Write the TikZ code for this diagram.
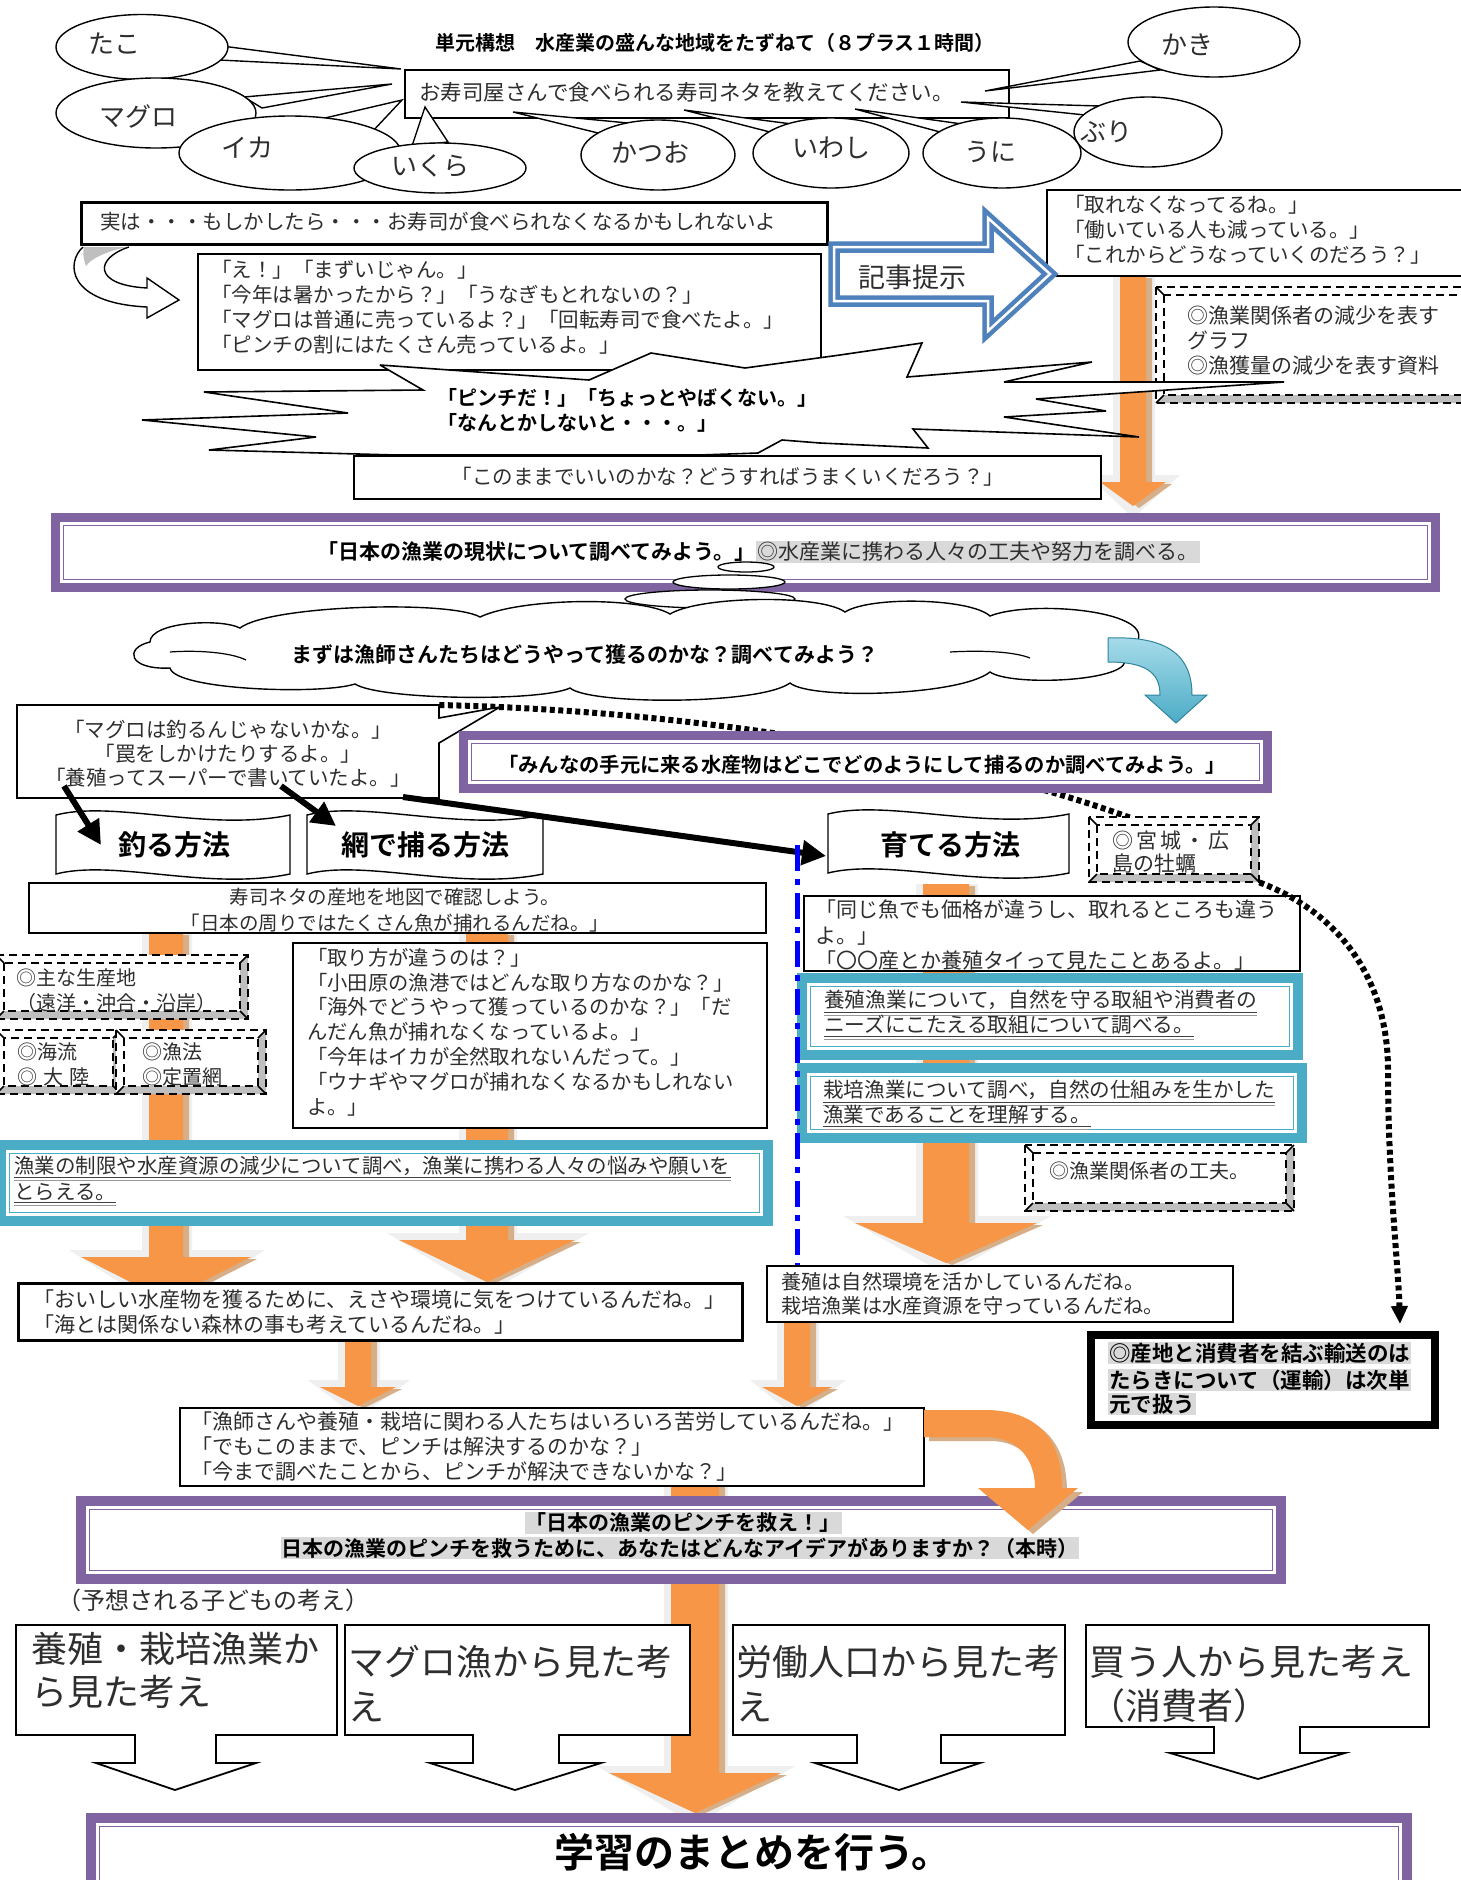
\documentclass[tikz,border=0pt]{standalone}
\usepackage{fontspec}
\setmainfont{Noto Sans CJK JP}[BoldFont={* Bold}]
\usetikzlibrary{arrows.meta,shapes.geometric}
\definecolor{pur}{HTML}{8064A2}
\definecolor{teal2}{HTML}{4BACC6}
\definecolor{tealL}{HTML}{A8DCEA}
\definecolor{tealD}{HTML}{31849B}
\definecolor{blu}{HTML}{4F81BD}
\definecolor{ora}{HTML}{F79646}
\definecolor{tanc}{HTML}{D6AE88}
\definecolor{glow}{HTML}{EFEFEF}
\definecolor{hl}{HTML}{D9D9D9}
\definecolor{bev}{HTML}{BFBFBF}
\definecolor{txt}{HTML}{2E2E2E}
\newcommand\fs[2]{\fontsize{#1}{#2}\selectfont}
\tikzset{
 bx/.style={draw, line width=1.8pt, fill=white, inner sep=0pt, anchor=north west},
 t/.style={inner sep=0pt, anchor=north west, align=left, text=txt},
 tw/.style={inner sep=0pt, anchor=west, text=txt},
 et/.style={inner sep=0pt, text=txt, font=\fs{26}{30}},
 ell/.style={draw, ellipse, line width=1.4pt, fill=white, inner sep=0pt},
 tail/.style={draw, line width=1.4pt, fill=white, line join=miter},
 dsh/.style={line width=2.6pt, dash pattern=on 8pt off 5pt},
 ul/.style={line width=1pt, black!75},
 blk/.style={line width=6pt, -{Triangle[length=24pt,width=24pt]}},
 dotline/.style={line width=6pt, dash pattern=on 5pt off 3.5pt},
 cbox/.style={draw, line width=1.8pt, fill=white, line join=miter},
}
\newcommand\bxn[6][]{\node[bx,#1,minimum width={#5-(#3)},minimum height={#6-(#4)}] (#2) at (#3,#4) {};}
\newcommand\dbox[5]{%
 \fill[white] (#2,#3) rectangle (#4,#5);
 \fill[bev] ({#2+8},{#5-8}) -- ({#4-8},{#5-8}) -- ({#4-8},{#3+8}) -- (#4,#3) -- (#4,#5) -- (#2,#5) -- cycle;
 \draw[dsh] (#2,#3) rectangle (#4,#5);
 \draw[dsh] ({#2+8},{#3+8}) rectangle ({#4-8},{#5-8});
 \draw[line width=1.5pt] (#2,#3) -- ({#2+8},{#3+8}) (#4,#3) -- ({#4-8},{#3+8}) (#2,#5) -- ({#2+8},{#5-8}) (#4,#5) -- ({#4-8},{#5-8});
 \node[inner sep=0pt, minimum width={#4-(#2)}, minimum height={#5-(#3)}, anchor=north west] (#1) at (#2,#3) {};}
\newcommand\dframe[7]{%
 \fill[#6] (#2,#3) rectangle (#4,#5);
 \fill[white] ({#2+#7},{#3+#7}) rectangle ({#4-#7},{#5-#7});
 \draw[#6, line width=1.8pt] ({#2+#7+3.5},{#3+#7+3.5}) rectangle ({#4-#7-3.5},{#5-#7-3.5});
 \node[inner sep=0pt, minimum width={#4-(#2)}, minimum height={#5-(#3)}, anchor=north west] (#1) at (#2,#3) {};}
\newcommand\oarrow[7]{%
 \fill[glow] ({#2-#5/2-7},#3) -- ({#2+#5/2+9},#3) -- ({#2+#5/2+9},{#7-7}) -- ({#2+#6/2+14},{#7-7}) -- (#2,{#4+12}) -- ({#2-#6/2-12},{#7-7}) -- ({#2-#5/2-7},{#7-7}) -- cycle;
 \fill[tanc, shift={(6,2)}] ({#2-#5/2},#3) -- ({#2+#5/2},#3) -- ({#2+#5/2},#7) -- ({#2+#6/2},#7) -- (#2,#4) -- ({#2-#6/2},#7) -- ({#2-#5/2},#7) -- cycle;
 \fill[ora] ({#2-#5/2},#3) -- ({#2+#5/2},#3) -- ({#2+#5/2},#7) -- ({#2+#6/2},#7) -- (#2,#4) -- ({#2-#6/2},#7) -- ({#2-#5/2},#7) -- cycle;
 \coordinate (#1) at (#2,#4);}
\newcommand\ribbon[5]{%
 \draw[line width=1.4pt, fill=white] (#2,{#4+7}) .. controls ({#2+0.25*(#3-#2)},{#4-8}) and ({#2+0.65*(#3-#2)},{#4+24}) .. (#3,{#4+7}) -- (#3,{#4+7+#5}) .. controls ({#2+0.65*(#3-#2)},{#4+24+#5}) and ({#2+0.25*(#3-#2)},{#4-8+#5}) .. (#2,{#4+7+#5}) -- cycle;
 \coordinate (#1) at ({(#2+#3)/2},{#4+7+#5/2});}
\newcommand\ulline[5]{%
 \node[tw, font=\fs{#5}{25}] (#1) at (#2,#3) {#4};
 \draw[ul] ([yshift=-2pt]#1.south west) -- ([yshift=-2pt]#1.south east);
 \draw[ul, black!40] ([yshift=-5pt]#1.south west) -- ([yshift=-5pt]#1.south east);}
\begin{document}
\begin{tikzpicture}[x=1pt,y=-1pt]
\useasboundingbox (0,0) rectangle (1461,1880);
\fill[white] (0,0) rectangle (1461,1880);

% ================= top =================
\node[inner sep=0pt, anchor=west, font=\bfseries\fs{20}{24}] (title) at (435,43) {単元構想　水産業の盛んな地域をたずねて（８プラス１時間）};
\bxn{qbox}{404}{69}{1008}{117}
\node[tw, font=\fs{21.5}{26}] (qtxt) at (419,92) {お寿司屋さんで食べられる寿司ネタを教えてください。};

\draw[tail] (214,45) -- (401,69) -- (219,60) -- cycle;
\node[ell, minimum width=172pt, minimum height=65pt] (tako) at (142,47) {};
\node[et] (takot) at (114,44) {たこ};
\draw[tail] (244,97) -- (392,84) -- (262,108) -- cycle;
\node[ell, minimum width=200pt, minimum height=70pt] (maguro) at (156,113) {};
\node[et] (magurot) at (138,116) {マグロ};
\draw[tail] (325,118) -- (402,100) -- (372,132) -- cycle;
\node[ell, minimum width=222pt, minimum height=74pt] (ika) at (290,153) {};
\node[et] (ikat) at (247,148) {イカ};
\draw[tail] (412,146) -- (425,107) -- (448,142) -- cycle;
\node[ell, minimum width=172pt, minimum height=50pt] (ikura) at (440,168) {};
\node[et] (ikurat) at (430,166) {いくら};
\draw[tail] (598,133) -- (513,112) -- (628,123) -- cycle;
\node[ell, minimum width=154pt, minimum height=70pt] (katsuo) at (658,155) {};
\node[et] (katsuot) at (650,153) {かつお};
\draw[tail] (770,132) -- (684,110) -- (792,124) -- cycle;
\node[ell, minimum width=156pt, minimum height=70pt] (iwashi) at (831,153) {};
\node[et] (iwashit) at (831,148) {いわし};
\draw[tail] (1085,115) -- (961,102) -- (1100,106) -- cycle;
\node[ell, minimum width=148pt, minimum height=70pt] (buri) at (1148,132) {};
\node[et] (burit) at (1106,132) {ぶり};
\draw[tail] (940,132) -- (855,109) -- (962,124) -- cycle;
\node[ell, minimum width=158pt, minimum height=70pt] (uni) at (1002,153) {};
\node[et] (unit) at (990,152) {うに};
\draw[tail] (1140,61) -- (985,91) -- (1160,70) -- cycle;
\node[ell, minimum width=172pt, minimum height=70pt] (kaki) at (1214,42) {};
\node[et] (kakit) at (1187,45) {かき};

% ================= section 2 =================
\bxn[line width=2.5pt]{jitsu}{80}{201}{826}{243}
\node[tw, font=\fs{20.5}{25}] (jitsut) at (100,222) {実は・・・もしかしたら・・・お寿司が食べられなくなるかもしれないよ};

\fill[white] (129,247) .. controls (95,258) and (92,285) .. (147,288) -- (147,278) -- (179,300) -- (147,318) -- (147,307) .. controls (66,303) and (66,262) .. (83,247) -- cycle;
\fill[bev] (84,247) -- (127,247) .. controls (104,252) and (91,259) .. (86,266) .. controls (83,258) and (83,252) .. (84,247) -- cycle;
\draw[line width=1.4pt, line join=miter] (129,247) .. controls (95,258) and (92,285) .. (147,288) -- (147,278) -- (179,300) -- (147,318) -- (147,307) .. controls (66,303) and (66,262) .. (83,247);

\oarrow{oa1}{1133}{276}{506}{26}{66}{482}

\bxn[line width=2.2pt]{react}{197}{253}{820}{369}
\node[t, font=\fs{20.5}{25}] (reactt) at (211,260) {「え！」「まずいじゃん。」\\「今年は暑かったから？」「うなぎもとれないの？」\\「マグロは普通に売っているよ？」「回転寿司で食べたよ。」\\「ピンチの割にはたくさん売っているよ。」};

\bxn{toren}{1046}{189}{1462}{275}
\node[t, font=\fs{20.5}{25}] (torent) at (1064,195) {「取れなくなってるね。」\\「働いている人も減っている。」\\「これからどうなっていくのだろう？」};

\dbox{dash1}{1156}{287}{1472}{403}
\node[t, font=\fs{21}{25}] (dash1t) at (1187,306) {◎漁業関係者の減少を表す\\グラフ\\◎漁獲量の減少を表す資料};

\draw[line width=1.6pt, fill=white, line join=miter, miter limit=4] (380,365) -- (589,380) -- (651,353) -- (745,368) -- (840,355) -- (922,343) -- (907,377) -- (1092,362) -- (1004,382) -- (1284,382) -- (1036,399) -- (1106,411) -- (1004,417) -- (1139,437) -- (913,429) -- (928,448) -- (820,443) -- (782,440) -- (758,453) -- (700,455) -- (396,455) -- (209,450) -- (316,437) -- (142,420) -- (348,413) -- (204,392) -- (423,390) -- cycle;
\node[t, font=\bfseries\fs{20}{25}, text=black] (burstt) at (437,388) {「ピンチだ！」「ちょっとやばくない。」\\「なんとかしないと・・・。」};

\bxn[line width=2.2pt]{kono}{353}{455}{1100}{498}
\node[inner sep=0pt, text=txt, font=\fs{20.5}{25}] (konot) at (728,477) {「このままでいいのかな？どうすればうまくいくだろう？」};

\draw[fill=white, draw=blu, double=white, double distance=2.5pt, line width=4.5pt, line join=miter] (834,247) -- (988,247) -- (988,218) -- (1050,274) -- (988,331) -- (988,301) -- (834,301) -- cycle;
\node[tw, font=\fs{27}{30}] (kiji) at (858,277) {記事提示};

% ================= section 3 =================
\dframe{pur1}{51}{513}{1440}{592}{pur}{9}
\node[tw, font=\bfseries\fs{21}{25}, text=black] (pur1a) at (317,552) {「日本の漁業の現状について調べてみよう。」};
\node[anchor=west, inner sep=1.5pt, fill=hl, text=txt, font=\fs{21}{25}] (pur1b) at (pur1a.east) {◎水産業に携わる人々の工夫や努力を調べる。};

\node[draw, ellipse, line width=1.3pt, fill=white, minimum width=56pt, minimum height=10pt, inner sep=0pt] (th1) at (746,567) {};
\node[draw, ellipse, line width=1.3pt, fill=white, minimum width=112pt, minimum height=14pt, inner sep=0pt] (th2) at (729,582) {};
\node[draw, ellipse, line width=1.3pt, fill=white, minimum width=170pt, minimum height=18pt, inner sep=0pt] (th3) at (710,599) {};

\draw[line width=1.4pt, fill=white] (150,642) .. controls (150,622) and (220,618) .. (240,628)
 .. controls (270,605) and (450,600) .. (480,617)
 .. controls (520,598) and (640,596) .. (670,614)
 .. controls (700,596) and (820,594) .. (845,612)
 .. controls (870,596) and (970,598) .. (990,616)
 .. controls (1030,600) and (1150,610) .. (1138,640)
 .. controls (1158,648) and (1152,662) .. (1125,662)
 .. controls (1120,682) and (1010,686) .. (990,672)
 .. controls (960,696) and (810,700) .. (790,683)
 .. controls (760,705) and (590,705) .. (570,688)
 .. controls (540,702) and (380,700) .. (355,684)
 .. controls (320,695) and (175,690) .. (170,668)
 .. controls (128,670) and (124,648) .. (150,642) -- cycle;
\draw[line width=1.2pt] (170,652) .. controls (195,650) and (230,652) .. (246,660);
\draw[line width=1.2pt] (950,652) .. controls (985,650) and (1015,652) .. (1030,658);
\node[inner sep=0pt, font=\bfseries\fs{21}{25}] (cloudt) at (585,655) {まずは漁師さんたちはどうやって獲るのかな？調べてみよう？};

\path[draw=tealD, line width=1pt, top color=tealL, bottom color=teal2] (1108,638) .. controls (1160,636) and (1192,650) .. (1192,695) -- (1207,695) -- (1176,723) -- (1145,695) -- (1160,695) .. controls (1160,672) and (1145,662) .. (1108,662) -- cycle;

% speech box with dotted connector
\node[inner sep=0pt, minimum width=422pt, minimum height=93pt, anchor=north west] (spk) at (17,705) {};
\coordinate (mtop) at (1131,818);
\draw[dotline] (spk.north east) .. controls (750,712) and (1000,770) .. (mtop);
\draw[line width=1.6pt, fill=white, line join=miter] (17,705) -- (439,705) -- (439,718) -- (500,707) -- (439,743) -- (439,798) -- (17,798) -- cycle;
\node[align=center, inner sep=0pt, text=txt, font=\fs{20.5}{24}] (spkt) at (228,754) {「マグロは釣るんじゃないかな。」\\「罠をしかけたりするよ。」\\「養殖ってスーパーで書いていたよ。」};

\dframe{pur2}{459}{731}{1272}{793}{pur}{9}
\node[inner sep=0pt, font=\bfseries\fs{20.3}{24}] (pur2t) at (862,765) {「みんなの手元に来る水産物はどこでどのようにして捕るのか調べてみよう。」};

% orange arrows (behind boxes)
\oarrow{oaA}{166}{933}{1300}{34}{170}{1257}
\oarrow{oaB}{487}{933}{1282}{42}{176}{1240}
\oarrow{oaC}{946}{884}{1263}{46}{182}{1223}
\oarrow{oaD}{358}{1339}{1406}{26}{76}{1387}
\oarrow{oaE}{797}{1321}{1406}{26}{70}{1387}
\oarrow{oaF}{695}{1485}{1813}{48}{172}{1773}

% ribbons
\ribbon{rb1}{56}{290}{808}{59}
\node[inner sep=0pt, font=\bfseries\fs{28}{30}] (tsuru) at (174,845) {釣る方法};
\ribbon{rb2}{307}{543}{808}{59}
\node[inner sep=0pt, font=\bfseries\fs{28}{30}] (ami) at (425,845) {網で捕る方法};
\ribbon{rb3}{828}{1069}{807}{59}
\node[inner sep=0pt, font=\bfseries\fs{28}{30}] (sodateru) at (950,845) {育てる方法};

\coordinate (a1s) at (64,786); \coordinate (a1e) at (101,845);
\coordinate (a2s) at (281,786); \coordinate (a2e) at (336,826);
\coordinate (a3s) at (403,797); \coordinate (a3e) at (826,856);
\draw[blk] (a1s) -- (a1e);
\draw[blk] (a2s) -- (a2e);
\draw[blk] (a3s) -- (a3e);

\dbox{miyagi}{1089}{817}{1259}{882}
\node[t, font=\fs{21}{23}] (miyagit) at (1112,831) {◎\hspace{3pt}宮\hspace{3pt}城\hspace{3pt}・\hspace{3pt}広\\島の牡蠣};

\bxn{neta}{28}{882}{765}{932}
\node[align=center, inner sep=0pt, text=txt, font=\fs{19.5}{26}] (netat) at (395,910) {寿司ネタの産地を地図で確認しよう。\\「日本の周りではたくさん魚が捕れるんだね。」};

\dbox{seisan}{-4}{955}{248}{1019}
\node[t, font=\fs{20}{25}] (seisant) at (16,968) {◎主な生産地\\（遠洋・沖合・沿岸）};
\dbox{kairyu}{-4}{1030}{121}{1094}
\node[t, font=\fs{20}{25}] (kairyut) at (17,1042) {◎海流\\◎\hspace{6pt}大\hspace{6pt}陸};
\dbox{gyoho}{116}{1030}{266}{1094}
\node[t, font=\fs{20}{25}] (gyohot) at (142,1042) {◎漁法\\◎定置網};

\bxn{torikata}{292}{942}{766}{1127}
\node[t, font=\fs{20.3}{24.8}] (torikatat) at (307,948) {「取り方が違うのは？」\\「小田原の漁港ではどんな取り方なのかな？」\\「海外でどうやって獲っているのかな？」「だ\\んだん魚が捕れなくなっているよ。」\\「今年はイカが全然取れないんだって。」\\「ウナギやマグロが捕れなくなるかもしれない\\よ。」};

\dframe{teal1}{-4}{1140}{773}{1226}{teal2}{10}
\ulline{tl1}{14}{1166}{漁業の制限や水産資源の減少について調べ，漁業に携わる人々の悩みや願いを}{20.5}
\ulline{tl2}{14}{1192}{とらえる。}{20.5}

\bxn{onaji}{803}{895}{1299}{970}
\node[t, font=\fs{21}{25.5}] (onajit) at (815,900) {「同じ魚でも価格が違うし、取れるところも違う\\よ。」\\「〇〇産とか養殖タイって見たことあるよ。」};

\dframe{teal2a}{797}{973}{1303}{1060}{teal2}{10}
\ulline{tr1}{824}{1000}{養殖漁業について，自然を守る取組や消費者の}{20.7}
\ulline{tr2}{824}{1025}{ニーズにこたえる取組について調べる。}{20.7}
\dframe{teal2b}{797}{1063}{1307}{1143}{teal2}{10}
\ulline{tr3}{823}{1090}{栽培漁業について調べ，自然の仕組みを生かした}{20.6}
\ulline{tr4}{823}{1115}{漁業であることを理解する。}{20.6}

\dbox{kufu}{1025}{1145}{1294}{1211}
\node[tw, font=\fs{20}{25}] (kufut) at (1049,1171) {◎漁業関係者の工夫。};

\coordinate (bl1) at (797,845); \coordinate (bl2) at (797,1268);
\draw[blue, line width=5pt, dash pattern=on 26pt off 8pt on 6pt off 8pt] (bl1) -- (bl2);

\bxn[line width=2.5pt]{oishii}{17}{1282}{741}{1339}
\node[t, font=\fs{21}{25}] (oishiit) at (33,1290) {「おいしい水産物を獲るために、えさや環境に気をつけているんだね。」\\「海とは関係ない森林の事も考えているんだね。」};

\bxn{yoshoku}{766}{1265}{1232}{1321}
\node[t, font=\fs{20.2}{24}] (yoshokut) at (781,1272) {養殖は自然環境を活かしているんだね。\\栽培漁業は水産資源を守っているんだね。};

% dotted connector to the transport box
\node[draw, line width=8pt, fill=white, minimum width=344pt, minimum height=90pt, anchor=north west, inner sep=0pt] (sanchi) at (1087,1331) {};
\coordinate (stop) at (1400,1324);
\draw[dotline, -{Triangle[length=18pt,width=16pt]}] (miyagi.south east) .. controls (1345,915) and (1388,985) .. (1388,1070) .. controls (1388,1180) and (1398,1260) .. (stop);
\node[anchor=west, fill=hl, inner sep=1pt, font=\bfseries\fs{21.5}{25}] (s1) at (1108,1353) {◎産地と消費者を結ぶ輸送のは};
\node[anchor=west, fill=hl, inner sep=1pt, font=\bfseries\fs{21.5}{25}] (s2) at (1108,1380) {たらきについて（運輸）は次単};
\node[anchor=west, fill=hl, inner sep=1pt, font=\bfseries\fs{21.5}{25}] (s3) at (1108,1404) {元で扱う};

\bxn[line width=1.6pt]{ryoshi}{179}{1407}{923}{1485}
\node[t, font=\fs{21}{25}] (ryoshit) at (191,1412) {「漁師さんや養殖・栽培に関わる人たちはいろいろ苦労しているんだね。」\\「でもこのままで、ピンチは解決するのかな？」\\「今まで調べたことから、ピンチが解決できないかな？」};

\dframe{pur3}{76}{1496}{1286}{1584}{pur}{10}
\node[fill=hl, inner sep=1pt, font=\bfseries\fs{21}{25}] (p3a) at (683,1523) {「日本の漁業のピンチを救え！」};
\node[fill=hl, inner sep=1pt, font=\bfseries\fs{21}{25}] (p3b) at (680,1548) {日本の漁業のピンチを救うために、あなたはどんなアイデアがありますか？（本時）};

\fill[tanc, shift={(5,4)}] (924,1410) -- (985,1410) .. controls (1040,1410) and (1062,1442) .. (1062,1488) -- (1078,1488) -- (1028,1530) -- (978,1488) -- (1035,1488) .. controls (1035,1458) and (1017,1437) .. (985,1437) -- (924,1437) -- cycle;
\fill[ora] (924,1410) -- (985,1410) .. controls (1040,1410) and (1062,1442) .. (1062,1488) -- (1078,1488) -- (1028,1530) -- (978,1488) -- (1035,1488) .. controls (1035,1458) and (1017,1437) .. (985,1437) -- (924,1437) -- cycle;

\node[tw, font=\fs{24}{26}] (yoso) at (57,1600) {（予想される子どもの考え）};

\draw[cbox] (16,1625) -- (337,1625) -- (337,1735) -- (216,1735) -- (216,1763) -- (256,1763) -- (175,1790) -- (96,1763) -- (135,1763) -- (135,1735) -- (16,1735) -- cycle;
\node[t, font=\fs{36}{43}] (ca) at (31,1632) {養殖・栽培漁業か\\ら見た考え};
\draw[cbox] (345,1625) -- (690,1625) -- (690,1735) -- (559,1735) -- (559,1763) -- (601,1763) -- (515,1790) -- (430,1763) -- (473,1763) -- (473,1735) -- (345,1735) -- cycle;
\node[t, font=\fs{36}{45}] (cb) at (348,1645) {マグロ漁から見た考\\え};
\draw[cbox] (733,1625) -- (1065,1625) -- (1065,1735) -- (941,1735) -- (941,1763) -- (980,1763) -- (899,1790) -- (815,1763) -- (857,1763) -- (857,1735) -- (733,1735) -- cycle;
\node[t, font=\fs{36}{45}] (cc) at (736,1645) {労働人口から見た考\\え};
\draw[cbox] (1086,1625) -- (1429,1625) -- (1429,1727) -- (1300,1727) -- (1300,1753) -- (1345,1753) -- (1258,1779) -- (1170,1753) -- (1214,1753) -- (1214,1727) -- (1086,1727) -- cycle;
\node[t, font=\fs{36}{44}] (cd) at (1089,1645) {買う人から見た考え\\（消費者）};

\dframe{pur4}{86}{1813}{1412}{1905}{pur}{10}
\node[inner sep=0pt, font=\bfseries\fs{40}{44}] (matome) at (753,1852) {学習のまとめを行う。};
\end{tikzpicture}
\end{document}
